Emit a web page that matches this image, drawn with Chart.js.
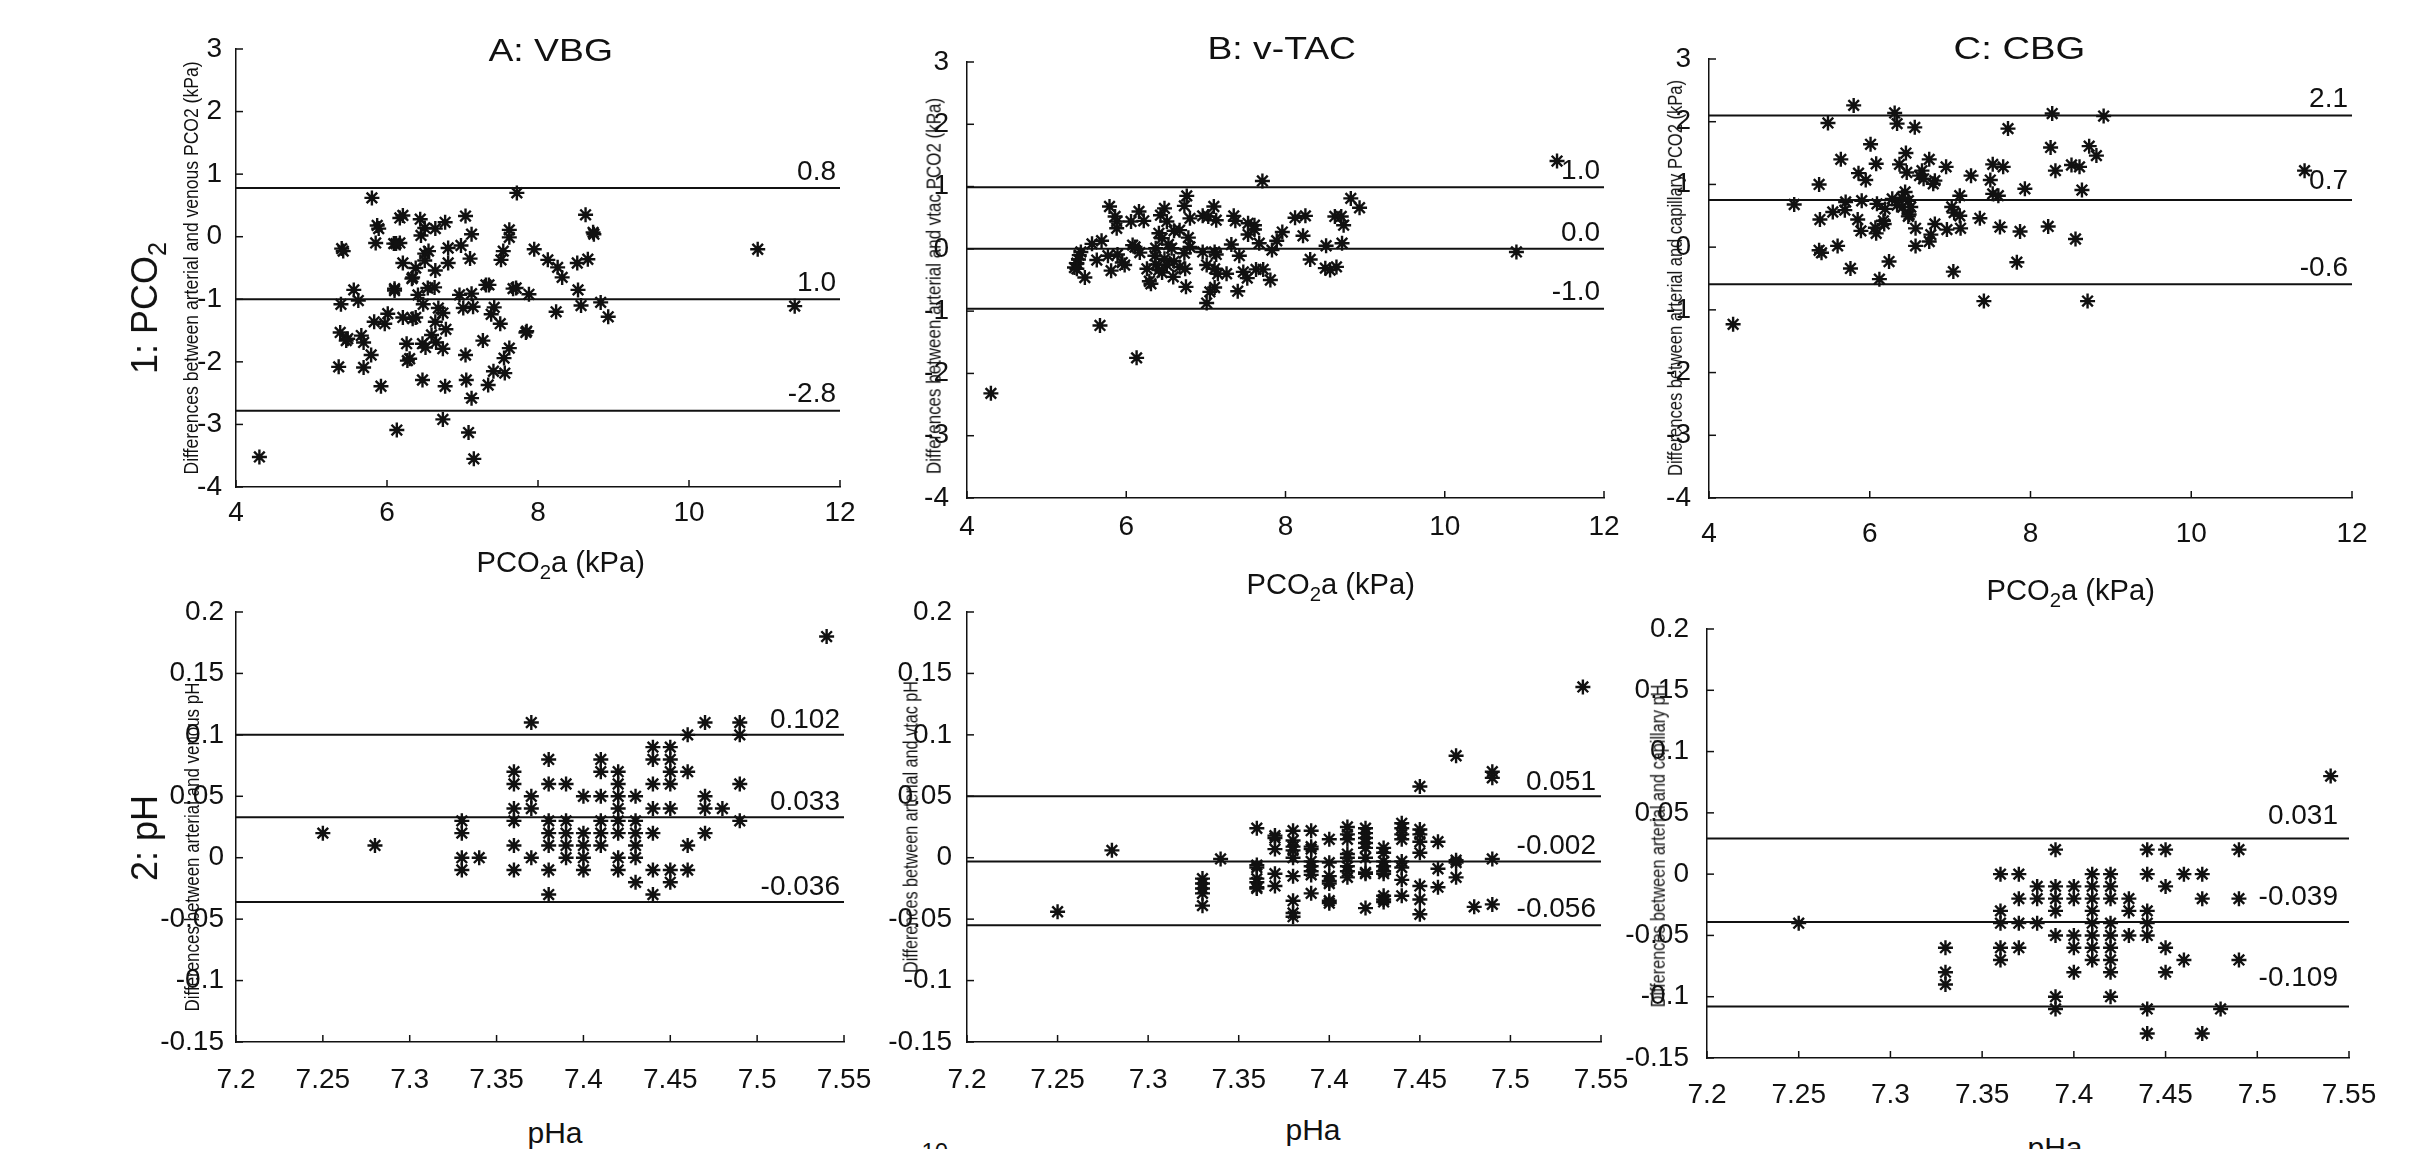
<!DOCTYPE html>
<html>
<head>
<meta charset="utf-8">
<script src="https://cdn.jsdelivr.net/npm/chart.js@4.4.1/dist/chart.umd.min.js"></script>
<style>
  body { margin: 0; background: #fff; width: 2418px; height: 1149px; overflow: hidden; position: relative;
         font-family: "Liberation Sans", Arial, sans-serif; }
  canvas { position: absolute; }
  .lbl { position: absolute; white-space: nowrap; color: #111; line-height: 1; }
  .lbl sub { font-size: 0.7em; vertical-align: -0.35em; line-height: 0; }
</style>
</head>
<body>
<script>
// === 1: PCO2, A: VBG ===
const vbgPco2X = [4.31,5.80,7.72,8.63,6.21,6.17,6.44,6.77,7.04,5.87,5.89,6.64,6.50,7.62,7.12,6.45,7.62,8.73,8.74,5.40,
  5.42,5.85,6.09,6.17,6.12,6.98,6.81,6.55,7.95,10.91,7.54,7.51,6.21,6.50,6.50,7.10,6.81,8.13,8.52,8.66,
  6.38,8.26,6.64,6.34,8.32,6.33,5.56,6.10,6.10,6.54,6.63,7.31,7.35,7.71,7.67,8.53,5.62,6.41,6.96,7.12,
  7.88,5.39,6.48,6.68,7.01,7.14,7.42,8.57,8.83,11.40,6.74,6.01,8.24,7.38,6.21,6.38,6.34,8.93,5.83,6.64,
  5.97,7.50,6.78,5.38,7.85,7.84,6.59,5.48,5.46,5.66,5.69,6.26,6.47,6.65,7.27,6.51,6.74,7.62,5.79,7.04,
  7.55,6.30,6.27,5.36,5.69,7.41,7.56,6.47,7.05,5.92,6.77,7.34,7.12,6.74,6.13,7.08,7.15];
const vbgPco2Y = [-3.52,0.62,0.70,0.35,0.34,0.30,0.28,0.23,0.33,0.18,0.13,0.13,0.14,0.11,0.04,0.02,-0.01,0.07,0.04,-0.19,
  -0.23,-0.10,-0.11,-0.10,-0.11,-0.14,-0.18,-0.23,-0.20,-0.20,-0.23,-0.37,-0.42,-0.27,-0.38,-0.35,-0.42,-0.37,-0.42,-0.36,
  -0.50,-0.49,-0.54,-0.65,-0.65,-0.67,-0.85,-0.83,-0.86,-0.82,-0.81,-0.77,-0.77,-0.82,-0.83,-0.85,-1.02,-0.93,-0.93,-0.91,
  -0.92,-1.08,-1.08,-1.14,-1.14,-1.12,-1.13,-1.10,-1.05,-1.11,-1.22,-1.23,-1.20,-1.24,-1.29,-1.29,-1.31,-1.28,-1.36,-1.36,
  -1.39,-1.39,-1.48,-1.53,-1.51,-1.53,-1.57,-1.63,-1.66,-1.58,-1.69,-1.71,-1.71,-1.69,-1.66,-1.77,-1.79,-1.78,-1.89,-1.89,
  -1.94,-1.95,-1.98,-2.08,-2.09,-2.15,-2.18,-2.29,-2.29,-2.39,-2.39,-2.37,-2.58,-2.92,-3.09,-3.13,-3.55];
const vbgPco2Lines = [0.78, -1.0, -2.78];
const vbgPco2LineText = ["0.8", "1.0", "-2.8"];

// === 1: PCO2, B: v-TAC ===
const vtacPco2X = [4.30,5.67,6.13,11.41,7.71,10.90,6.76,6.73,5.79,7.10,6.48,8.82,8.93,6.16,5.86,6.43,6.96,7.03,7.35,8.12,
  8.25,8.62,8.70,6.80,7.13,7.37,6.22,5.88,6.06,6.51,8.73,7.53,7.61,5.88,7.61,6.60,6.67,7.96,6.41,7.53,
  8.22,6.78,6.45,5.69,5.57,6.53,7.32,8.71,7.67,7.89,6.08,6.11,8.51,6.80,6.37,6.57,7.83,5.43,6.96,7.11,
  6.17,7.13,6.73,5.77,5.41,5.89,6.36,7.42,5.40,5.63,8.31,6.48,6.60,5.95,5.98,5.38,6.37,6.51,7.01,5.35,
  5.38,6.67,6.26,7.11,8.50,8.56,8.64,5.81,6.41,6.74,7.63,7.72,7.47,6.45,6.59,7.15,7.26,5.48,7.52,6.29,
  7.81,6.31,6.75,7.11,7.05,7.40,7.01];
const vtacPco2Y = [-2.32,-1.23,-1.75,1.41,1.09,-0.05,0.85,0.69,0.68,0.68,0.65,0.81,0.66,0.60,0.52,0.54,0.53,0.52,0.53,0.50,
  0.53,0.52,0.52,0.49,0.46,0.45,0.45,0.44,0.44,0.44,0.38,0.41,0.38,0.33,0.31,0.29,0.30,0.27,0.25,0.23,
  0.21,0.18,0.17,0.13,0.08,0.07,0.07,0.09,0.09,0.13,0.06,0.03,0.05,0.03,0.01,0.01,-0.02,-0.05,-0.05,-0.05,
  -0.06,-0.09,-0.07,-0.11,-0.10,-0.09,-0.11,-0.11,-0.17,-0.18,-0.17,-0.16,-0.20,-0.22,-0.26,-0.23,-0.25,-0.26,-0.26,-0.30,
  -0.32,-0.29,-0.32,-0.32,-0.31,-0.34,-0.29,-0.35,-0.34,-0.32,-0.33,-0.33,-0.37,-0.38,-0.45,-0.40,-0.40,-0.46,-0.47,-0.52,
  -0.50,-0.56,-0.61,-0.62,-0.69,-0.68,-0.87];
const vtacPco2Lines = [0.99, 0.0, -0.96];
const vtacPco2LineText = ["1.0", "0.0", "-1.0"];

// === 1: PCO2, C: CBG ===
const cbgPco2X = [4.30,5.80,6.31,8.27,8.91,5.48,6.34,6.56,7.72,6.01,8.25,8.73,8.82,6.45,5.64,6.74,6.08,6.37,6.95,7.53,
  7.66,8.51,8.61,8.31,11.41,5.86,6.46,6.65,7.26,5.95,6.62,6.67,7.50,6.81,6.79,5.37,8.64,7.93,6.44,7.12,
  7.53,7.60,6.28,6.40,6.48,5.06,5.70,5.90,6.09,6.34,6.41,6.51,7.02,5.69,6.19,5.54,7.05,6.49,6.48,7.12,
  5.38,5.85,7.37,6.17,6.18,6.81,8.22,6.07,6.57,7.13,7.62,6.96,5.89,7.87,6.08,6.76,6.74,8.56,5.37,5.40,
  5.60,6.57,6.24,7.83,5.76,7.04,6.12,7.42,8.71];
const cbgPco2Y = [-1.23,2.26,2.14,2.13,2.09,1.98,1.97,1.91,1.89,1.64,1.59,1.61,1.46,1.50,1.40,1.40,1.33,1.32,1.28,1.32,
  1.28,1.31,1.28,1.22,1.22,1.18,1.19,1.22,1.14,1.07,1.14,1.09,1.07,1.06,1.01,1.00,0.91,0.93,0.88,0.82,
  0.85,0.82,0.77,0.79,0.74,0.68,0.72,0.74,0.69,0.67,0.64,0.64,0.64,0.59,0.61,0.56,0.55,0.52,0.49,0.50,
  0.44,0.44,0.46,0.42,0.37,0.37,0.33,0.31,0.30,0.30,0.32,0.28,0.26,0.25,0.22,0.20,0.09,0.13,-0.05,-0.09,
  0.02,0.02,-0.23,-0.24,-0.34,-0.39,-0.51,-0.86,-0.86];
const cbgPco2Lines = [2.1, 0.75, -0.59];
const cbgPco2LineText = ["2.1", "0.7", "-0.6"];

// === 2: pH, A: VBG ===
const vbgPhX = [7.25,7.28,7.33,7.33,7.33,7.33,7.34,7.36,7.36,7.36,7.36,7.36,7.36,7.37,7.37,7.37,7.37,
  7.38,7.38,7.38,7.38,7.38,7.38,7.38,7.39,7.39,7.39,7.39,7.39,7.40,7.40,7.40,7.40,7.40,
  7.41,7.41,7.41,7.41,7.41,7.41,7.42,7.42,7.42,7.42,7.42,7.42,7.42,7.42,7.43,7.43,7.43,7.43,7.43,7.43,
  7.44,7.44,7.44,7.44,7.44,7.44,7.44,7.45,7.45,7.45,7.45,7.45,7.45,7.45,7.46,7.46,7.46,7.46,
  7.47,7.47,7.47,7.47,7.48,7.49,7.49,7.49,7.49,7.54];
const vbgPhY = [0.02,0.01,0.03,0.02,0,-0.01,0,0.07,0.06,0.04,0.03,0.01,-0.01,0.11,0.05,0.04,0,
  0.08,0.06,0.03,0.02,0.01,-0.01,-0.03,0.06,0.03,0.02,0.01,0,0.05,0.02,0.01,0,-0.01,
  0.08,0.07,0.05,0.03,0.02,0.01,0.07,0.06,0.05,0.04,0.03,0.02,0,-0.01,0.05,0.03,0.02,0.01,0,-0.02,
  0.09,0.08,0.06,0.04,0.02,-0.01,-0.03,0.09,0.08,0.07,0.06,0.04,-0.01,-0.02,0.10,0.07,0.01,-0.01,
  0.11,0.05,0.04,0.02,0.04,0.11,0.10,0.06,0.03,0.18];
const vbgPhLines = [0.1, 0.033, -0.036];
const vbgPhLineText = ["0.102", "0.033", "-0.036"];

// === 2: pH, B: v-TAC ===
const vtacPhX = [7.25,7.28,7.33,7.33,7.33,7.33,7.33,7.34,7.36,7.36,7.36,7.36,7.36,7.36,7.36,
  7.37,7.37,7.37,7.37,7.37,7.38,7.38,7.38,7.38,7.38,7.38,7.38,7.38,7.38,
  7.39,7.39,7.39,7.39,7.39,7.39,7.39,7.39,7.40,7.40,7.40,7.40,7.40,7.40,7.40,
  7.41,7.41,7.41,7.41,7.41,7.41,7.41,7.41,7.42,7.42,7.42,7.42,7.42,7.42,7.42,7.42,7.42,
  7.43,7.43,7.43,7.43,7.43,7.43,7.43,7.43,7.43,7.44,7.44,7.44,7.44,7.44,7.44,7.44,7.44,
  7.45,7.45,7.45,7.45,7.45,7.45,7.45,7.45,7.46,7.46,7.46,7.47,7.47,7.47,7.47,7.48,
  7.49,7.49,7.49,7.49,7.54];
const vtacPhY = [-0.044,0.006,-0.017,-0.021,-0.025,-0.029,-0.039,-0.001,0.024,-0.006,-0.008,-0.017,-0.020,-0.024,-0.025,
  0.018,0.016,0.007,-0.013,-0.023,0.022,0.014,0.009,0.006,0.0,-0.015,-0.035,-0.045,-0.048,
  0.022,0.009,0.007,-0.003,-0.007,-0.011,-0.014,-0.029,0.015,-0.004,-0.015,-0.019,-0.021,-0.035,-0.037,
  0.025,0.019,0.015,0.003,0.0,-0.007,-0.011,-0.016,0.024,0.020,0.016,0.012,0.008,0.0,-0.012,-0.013,-0.041,
  0.008,0.004,-0.003,-0.007,-0.011,-0.013,-0.031,-0.034,-0.036,0.028,0.024,0.019,0.015,-0.003,-0.008,-0.018,-0.031,
  0.058,0.023,0.019,0.013,0.004,-0.023,-0.034,-0.046,0.013,-0.009,-0.024,0.083,-0.002,-0.004,-0.016,-0.040,
  0.070,0.065,-0.001,-0.038,0.139];
const vtacPhLines = [0.05, -0.003, -0.055];
const vtacPhLineText = ["0.051", "-0.002", "-0.056"];

// === 2: pH, C: CBG ===
const cbgPhX = [7.25,7.33,7.33,7.33,7.36,7.36,7.36,7.36,7.36,7.37,7.37,7.37,7.37,7.38,7.38,7.38,
  7.39,7.39,7.39,7.39,7.39,7.39,7.39,7.40,7.40,7.40,7.40,7.40,
  7.41,7.41,7.41,7.41,7.41,7.41,7.41,7.41,7.42,7.42,7.42,7.42,7.42,7.42,7.42,7.42,7.42,
  7.43,7.43,7.43,7.44,7.44,7.44,7.44,7.44,7.44,7.44,7.45,7.45,7.45,7.45,7.46,7.46,
  7.47,7.47,7.47,7.48,7.49,7.49,7.49,7.54];
const cbgPhY = [-0.04,-0.06,-0.08,-0.09,0,-0.03,-0.04,-0.06,-0.07,0,-0.02,-0.04,-0.06,-0.01,-0.02,-0.04,
  0.02,-0.01,-0.02,-0.03,-0.05,-0.10,-0.11,-0.01,-0.02,-0.05,-0.06,-0.08,
  0,-0.01,-0.02,-0.03,-0.04,-0.05,-0.06,-0.07,0,-0.01,-0.02,-0.04,-0.05,-0.06,-0.07,-0.08,-0.10,
  -0.02,-0.03,-0.05,0.02,0,-0.03,-0.04,-0.05,-0.11,-0.13,0.02,-0.01,-0.06,-0.08,0,-0.07,
  0,-0.02,-0.13,-0.11,0.02,-0.02,-0.07,0.08];
const cbgPhLines = [0.029, -0.039, -0.108];
const cbgPhLineText = ["0.031", "-0.039", "-0.109"];

// === 軸範圍 ===
const pco2Range = [4, 12, 2, -4, 3, 1];          // xMin, xMax, xStep, yMin, yMax, yStep
const phRange = [7.2, 7.55, 0.05, -0.15, 0.2, 0.05];

// === 面板設定 (繪圖區 L,T,R,B) ===
const panels = [
  { xs: vbgPco2X, ys: vbgPco2Y, lines: vbgPco2Lines, text: vbgPco2LineText, range: pco2Range,
    box: [236, 49, 840, 487], xPad: 1, yPad: 6, raise: [16, 16, 16], inset: 4 },
  { xs: vtacPco2X, ys: vtacPco2Y, lines: vtacPco2Lines, text: vtacPco2LineText, range: pco2Range,
    box: [967, 62, 1604, 498], xPad: 4, yPad: 10, raise: [16, 16, 16], inset: 4 },
  { xs: cbgPco2X, ys: cbgPco2Y, lines: cbgPco2Lines, text: cbgPco2LineText, range: pco2Range,
    box: [1709, 59, 2352, 498], xPad: 11, yPad: 10, raise: [16, 19, 16], inset: 4 },
  { xs: vbgPhX, ys: vbgPhY, lines: vbgPhLines, text: vbgPhLineText, range: phRange,
    box: [236, 612, 844, 1042], xPad: 13, yPad: 4, raise: [15, 15, 15], inset: 4 },
  { xs: vtacPhX, ys: vtacPhY, lines: vtacPhLines, text: vtacPhLineText, range: phRange,
    box: [967, 612, 1601, 1042], xPad: 13, yPad: 7, raise: [14, 15, 16], inset: 5 },
  { xs: cbgPhX, ys: cbgPhY, lines: cbgPhLines, text: cbgPhLineText, range: phRange,
    box: [1707, 629, 2349, 1058], xPad: 12, yPad: 10, raise: [22, 25, 28], inset: 11 },
];

const INK = "#111";
const tickFont = { family: "'Liberation Sans', Arial, sans-serif", size: 28 };
const fmt = v => String(+Number(v).toFixed(2));

// 內向刻度線
const innerTicks = {
  id: "innerTicks",
  afterDraw(chart) {
    const { ctx, chartArea, scales } = chart;
    ctx.save();
    ctx.strokeStyle = INK;
    ctx.lineWidth = 1.5;
    scales.x.ticks.forEach(t => {
      const px = scales.x.getPixelForValue(t.value);
      ctx.beginPath(); ctx.moveTo(px, chartArea.bottom); ctx.lineTo(px, chartArea.bottom - 7); ctx.stroke();
    });
    scales.y.ticks.forEach(t => {
      const py = scales.y.getPixelForValue(t.value);
      ctx.beginPath(); ctx.moveTo(chartArea.left, py); ctx.lineTo(chartArea.left + 7, py); ctx.stroke();
    });
    ctx.restore();
  }
};

// 水平線上方的數值標籤
const lineLabels = {
  id: "lineLabels",
  afterDatasetsDraw(chart, args, opts) {
    const { ctx, chartArea, scales } = chart;
    ctx.save();
    ctx.fillStyle = INK;
    ctx.font = "28px 'Liberation Sans', Arial, sans-serif";
    ctx.textAlign = "right";
    ctx.textBaseline = "middle";
    opts.lines.forEach((v, i) => {
      const py = scales.y.getPixelForValue(v);
      ctx.fillText(opts.text[i], chartArea.right - opts.inset, py - opts.raise[i]);
    });
    ctx.restore();
  }
};

function makePanel(p) {
  const padL = 110, padT = 30, padR = 44, padB = 70;
  const [L, T, R, B] = p.box;
  const [xMin, xMax, xStep, yMin, yMax, yStep] = p.range;
  const w = R - L + padL + padR, h = B - T + padT + padB;
  const cv = document.createElement("canvas");
  cv.width = w; cv.height = h;
  cv.style.width = w + "px"; cv.style.height = h + "px";
  cv.style.left = (L - padL) + "px"; cv.style.top = (T - padT) + "px";
  document.body.appendChild(cv);

  const n = Math.min(p.xs.length, p.ys.length);
  const pts = [];
  for (let i = 0; i < n; i++) pts.push({ x: p.xs[i], y: p.ys[i] });

  const lineSets = p.lines.map(v => ({
    type: "line",
    data: [{ x: xMin, y: v }, { x: xMax, y: v }],
    borderColor: INK, borderWidth: 2, pointRadius: 0, showLine: true, fill: false,
  }));

  new Chart(cv, {
    type: "scatter",
    data: {
      datasets: [
        { data: pts, pointStyle: "star", pointRadius: 7.5, borderColor: INK, backgroundColor: INK, borderWidth: 2.4 },
        ...lineSets,
      ],
    },
    options: {
      responsive: false,
      animation: false,
      events: [],
      layout: { padding: { left: 0, top: padT, right: padR, bottom: 0 } },
      plugins: {
        legend: { display: false },
        tooltip: { enabled: false },
        lineLabels: { lines: p.lines, text: p.text, raise: p.raise, inset: p.inset },
      },
      scales: {
        x: {
          type: "linear", min: xMin, max: xMax,
          ticks: { stepSize: xStep, padding: p.xPad, font: tickFont, color: INK, callback: fmt, maxRotation: 0, autoSkip: false },
          grid: { display: false },
          border: { color: INK, width: 1.5 },
          afterFit: s => { s.height = padB; },
        },
        y: {
          type: "linear", min: yMin, max: yMax,
          ticks: { stepSize: yStep, padding: p.yPad, font: tickFont, color: INK, callback: fmt, autoSkip: false },
          grid: { display: false },
          border: { color: INK, width: 1.5 },
          afterFit: s => { s.width = padL; },
        },
      },
    },
    plugins: [innerTicks, lineLabels],
  });
}

panels.forEach(makePanel);

// === 文字 ===
function addText(html, cx, cy, size, rot, len) {
  const d = document.createElement("div");
  d.className = "lbl";
  d.innerHTML = html;
  d.style.fontSize = size + "px";
  document.body.appendChild(d);
  const w = d.offsetWidth, hh = d.offsetHeight;
  const sx = len ? len / w : 1;
  d.style.left = (cx - w / 2) + "px";
  d.style.top = (cy - hh / 2) + "px";
  d.style.transform = `rotate(${rot}deg) scaleX(${sx})`;
}

addText("A: VBG", 550, 50, 31, 0, 124);
addText("B: v-TAC", 1281, 48, 31, 0, 148);
addText("C: CBG", 2019, 48, 31, 0, 132);

addText("1: PCO<sub>2</sub>", 145, 308, 36, -90);
addText("2: pH", 145, 838, 36, -90);

addText("Differences between arterial and venous PCO2 (kPa)", 190, 268, 20, -90, 413);
addText("Differences between arterial and vtac PCO2 (kPa)", 933, 286, 20, -90, 376);
addText("Differences between arterial and capillary PCO2 (kPa)", 1675, 278, 20, -90, 396);
addText("Differences between arterial and venous pH", 192, 847, 20, -90, 329);
addText("Differences between arterial and vtac pH", 910, 827, 20, -90, 292);
addText("Differences between arterial and capillary pH", 1658, 846, 20, -90, 323);

addText("PCO<sub>2</sub>a (kPa)", 560, 562, 30, 0, 168);
addText("PCO<sub>2</sub>a (kPa)", 1330, 584, 30, 0, 168);
addText("PCO<sub>2</sub>a (kPa)", 2070, 590, 30, 0, 168);
addText("pHa", 555, 1133, 30, 0);
addText("pHa", 1313, 1130, 30, 0);
addText("pHa", 2055, 1148, 30, 0);
addText("10", 935, 1152, 24, 0);
</script>
</body>
</html>
